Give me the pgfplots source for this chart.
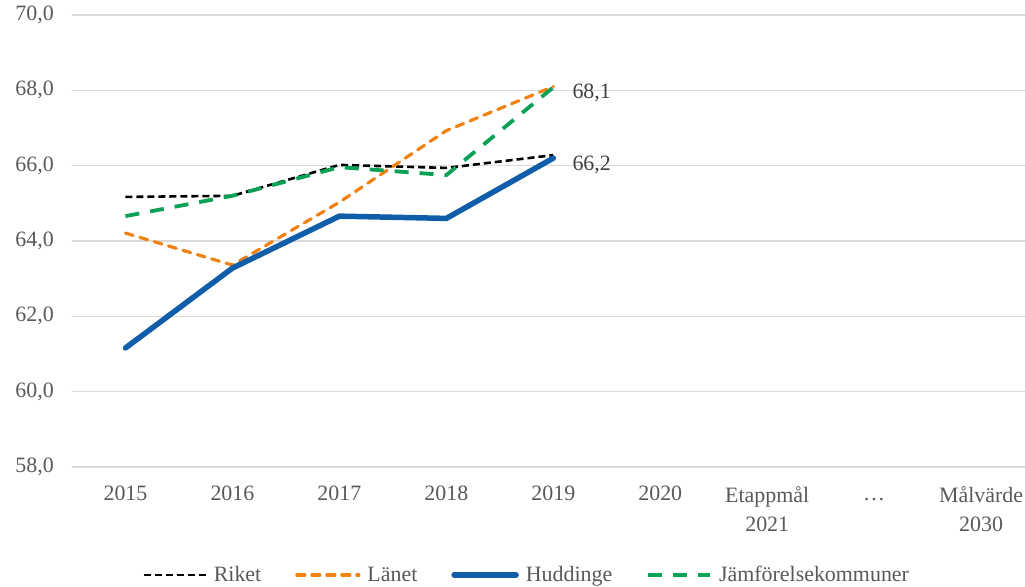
\documentclass[border=0pt]{standalone}
\usepackage{pgfplots}
\pgfplotsset{compat=1.18}
\usepackage{fontspec}
\setmainfont{Liberation Serif}
\definecolor{txt}{HTML}{595959}
\definecolor{lbl}{HTML}{404040}
\definecolor{gridc}{HTML}{D9D9D9}
\definecolor{cblue}{RGB}{16,94,170}
\definecolor{corange}{RGB}{240,130,20}
\definecolor{cgreen}{RGB}{10,160,85}
\begin{document}
\begin{tikzpicture}
\begin{axis}[
  scale only axis, width=953bp, height=452bp,
  xmin=-0.5, xmax=8.41, ymin=58, ymax=70,
  ytick={58,60,...,70},
  xtick={0,...,8},
  xticklabels={2015,2016,2017,2018,2019,2020,{Etappmål\\2021},{\vphantom{E}…},{Målvärde\\2030}},
  xticklabel style={align=center, text=txt, font=\fontsize{22}{30}\selectfont, inner sep=0pt, yshift=-19bp},
  yticklabel style={text=txt, font=\fontsize{22}{25}\selectfont, inner sep=0pt, xshift=-18bp},
  /pgf/number format/.cd, fixed, fixed zerofill, precision=1, use comma, assume math mode=true,
  /pgfplots/.cd,
  axis line style={draw=none},
  major tick length=0pt,
  ymajorgrids, grid style={draw=gridc, line width=1.3bp},
  clip=false,
  legend style={draw=none, at={(0.477,-0.239)}, anchor=center, legend columns=4,
    font=\fontsize{22}{25}\selectfont, text=txt, inner sep=0pt,
    /tikz/every odd column/.append style={column sep=5bp},
    /tikz/every even column/.append style={column sep=32bp}},
  legend cell align=left,
  legend image code/.code={\draw[#1] (0bp,0bp) -- (62bp,0bp);},
]
\addplot[black, line width=2.6bp, dash pattern=on 7bp off 4bp] coordinates {
  (0,65.17) (1,65.2) (2,66.02) (3,65.94) (4,66.28)};
\addlegendentry{Riket}
\addplot[corange, line width=3.2bp, dash pattern=on 8bp off 7bp, line cap=round] coordinates {
  (0,64.21) (1,63.36) (2,65.03) (3,66.93) (4,68.1)};
\addlegendentry{Länet}
\addplot[cblue, line width=5.5bp, line cap=round] coordinates {
  (0,61.16) (1,63.28) (2,64.66) (3,64.6) (4,66.2)};
\addlegendentry{Huddinge}
\addplot[cgreen, line width=3.8bp, dash pattern=on 14bp off 11bp] coordinates {
  (0,64.66) (1,65.2) (2,65.96) (3,65.75) (4,68.08)};
\addlegendentry{Jämförelsekommuner}
\node[anchor=base west, text=lbl, font=\fontsize{22}{25}\selectfont, inner sep=0pt, xshift=19bp, yshift=-11.5bp] at (axis cs:4,68.1) {68,1};
\node[anchor=base west, text=lbl, font=\fontsize{22}{25}\selectfont, inner sep=0pt, xshift=19bp, yshift=-12bp] at (axis cs:4,66.2) {66,2};
\end{axis}
\pgfresetboundingbox
\path ([xshift=-72bp,yshift=15bp]current axis.north west) rectangle ([yshift=-120bp]current axis.south east);
\end{tikzpicture}
\end{document}
